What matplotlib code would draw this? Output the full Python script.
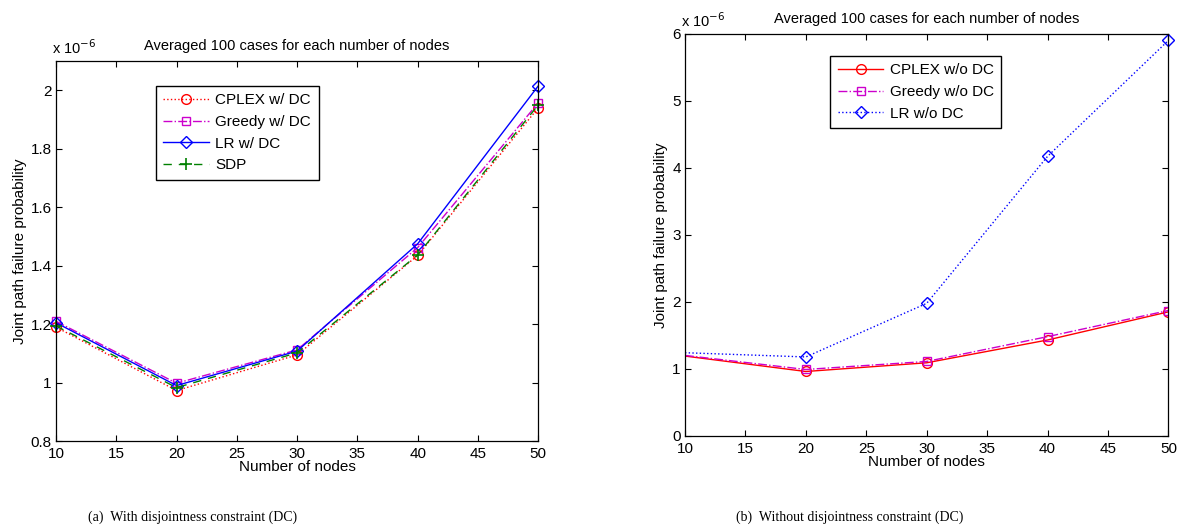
import matplotlib
matplotlib.use("Agg")
import matplotlib.pyplot as plt

# node counts on the x axis
nodes = [10, 20, 30, 40, 50]

# (a) with disjointness constraint, values in units of 1e-6
cplex_dc = [1.19, 0.973, 1.095, 1.435, 1.94]
greedy_dc = [1.21, 0.998, 1.112, 1.462, 1.957]
lr_dc = [1.205, 0.99, 1.108, 1.475, 2.015]
sdp = [1.194, 0.983, 1.102, 1.437, 1.95]

# (b) without disjointness constraint, values in units of 1e-6
cplex_nodc = [1.19, 0.96, 1.09, 1.43, 1.85]
greedy_nodc = [1.20, 0.99, 1.11, 1.48, 1.87]
lr_nodc = [1.24, 1.177, 1.977, 4.17, 5.90]

x_ticks = [10, 15, 20, 25, 30, 35, 40, 45, 50]
yticks_a = [0.8, 1.0, 1.2, 1.4, 1.6, 1.8, 2.0]
ytick_labels_a = ["0.8", "1", "1.2", "1.4", "1.6", "1.8", "2"]
yticks_b = [0, 1, 2, 3, 4, 5, 6]

title = "Averaged 100 cases for each number of nodes"
caption_a = "(a)  With disjointness constraint (DC)"
caption_b = "(b)  Without disjointness constraint (DC)"

plt.rcParams["font.family"] = ["Liberation Sans", "DejaVu Sans"]
plt.rcParams["font.size"] = 11

RED = "#ff0000"
MAG = "#cc00cc"
BLUE = "#0000ff"
GREEN = "#008000"
FS = 11

fig = plt.figure(figsize=(11.79, 5.27), dpi=100)
ax_a = fig.add_axes([0.0475, 0.163, 0.409, 0.721])
ax_b = fig.add_axes([0.581, 0.173, 0.410, 0.763])


def style(ax):
    ax.set_xlim(10, 50)
    ax.set_xticks(x_ticks)
    ax.tick_params(direction="in", top=True, right=True, length=4,
                   width=0.8, labelsize=FS, pad=3)
    ax.tick_params(axis="x", pad=4.5)
    for s in ax.spines.values():
        s.set_linewidth(0.9)
    ax.set_xlabel("Number of nodes", fontsize=FS, labelpad=-1)
    ax.set_ylabel("Joint path failure probability", fontsize=FS, labelpad=3)
    ax.set_title(title, fontsize=FS - 0.5, pad=8)
    ax.text(-0.008, 1.01, r"x 10$^{-6}$", transform=ax.transAxes,
            fontsize=FS - 0.5, ha="left", va="bottom")


def legend(ax, anchor):
    leg = ax.legend(loc="upper left", bbox_to_anchor=anchor,
                    fancybox=False, edgecolor="black", framealpha=1,
                    fontsize=FS, handlelength=3.0, handletextpad=0.4,
                    borderpad=0.5, labelspacing=0.5, borderaxespad=0)
    leg.get_frame().set_linewidth(1.0)
    return leg


# panel (a)
ax_a.plot(nodes, cplex_dc, ls=":", color=RED, lw=1.0, marker="o",
          markersize=7, markerfacecolor="none", markeredgewidth=1.0,
          label="CPLEX w/ DC", clip_on=False)
ax_a.plot(nodes, greedy_dc, ls="-.", color=MAG, lw=1.0, marker="s",
          markersize=6, markerfacecolor="none", markeredgewidth=1.0,
          label="Greedy w/ DC", clip_on=False)
ax_a.plot(nodes, lr_dc, ls="-", color=BLUE, lw=1.0, marker="D",
          markersize=6.5, markerfacecolor="none", markeredgewidth=1.0,
          label="LR w/ DC", clip_on=False)
ax_a.plot(nodes, sdp, ls=(0, (6, 5)), color=GREEN, lw=1.0, marker="+",
          markersize=8, markeredgewidth=1.2, label="SDP", clip_on=False)
ax_a.set_ylim(0.8, 2.1)
ax_a.set_yticks(yticks_a)
ax_a.set_yticklabels(ytick_labels_a)
style(ax_a)
legend(ax_a, (0.207, 0.935))

# panel (b): markers at x=10 sit on the axis edge and are not drawn
ax_b.plot(nodes, cplex_nodc, ls="-", color=RED, lw=1.0, marker="o",
          markevery=[1, 2, 3, 4], markersize=7, markerfacecolor="none",
          markeredgewidth=1.0, label="CPLEX w/o DC")
ax_b.plot(nodes, greedy_nodc, ls="-.", color=MAG, lw=1.0, marker="s",
          markevery=[1, 2, 3, 4], markersize=6, markerfacecolor="none",
          markeredgewidth=1.0, label="Greedy w/o DC")
ax_b.plot(nodes, lr_nodc, ls=":", color=BLUE, lw=1.0, marker="D",
          markevery=[1, 2, 3, 4], markersize=6.5, markerfacecolor="none",
          markeredgewidth=1.0, label="LR w/o DC", clip_on=False)
ax_b.set_ylim(0, 6)
ax_b.set_yticks(yticks_b)
style(ax_b)
legend(ax_b, (0.300, 0.945))

fig.text(0.163, 0.018, caption_a, fontsize=10, ha="center", va="center",
         family=["Liberation Serif", "DejaVu Serif"])
fig.text(0.721, 0.018, caption_b, fontsize=10, ha="center", va="center",
         family=["Liberation Serif", "DejaVu Serif"])

fig.savefig("out.png", dpi=100)
